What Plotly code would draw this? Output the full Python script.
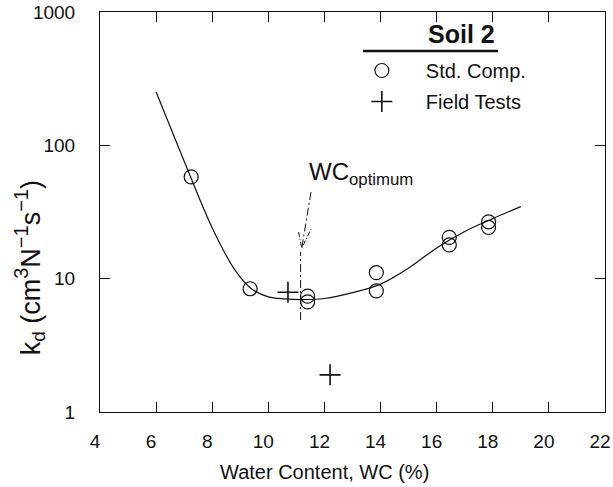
import plotly.graph_objects as go

# Standard compaction tests, Soil 2
std_wc = [7.25, 9.35, 11.4, 11.4, 13.85, 13.85, 16.45, 16.45, 17.85, 17.85]
std_kd = [58, 8.4, 7.4, 6.7, 11.1, 8.1, 20.4, 17.9, 26.7, 24.2]

# Field tests
field_wc = [10.7, 12.2]
field_kd = [7.9, 1.9]

# Fitted trend through the laboratory data
fit_wc = [6.0, 7.0, 8.0, 8.8, 9.4, 10.0, 10.6, 11.2, 12.0, 13.0, 14.0, 15.0, 16.0, 17.0, 18.0, 19.0]
fit_kd = [251, 76, 24, 11.7, 8.4, 7.3, 7.05, 6.97, 7.1, 7.85, 9.1, 12.0, 17.0, 22.6, 28.2, 34.7]

# Optimum water content marker
wc_opt = 11.15
opt_kd_range = [4.9, 15.9]

x_ticks = [4, 6, 8, 10, 12, 14, 16, 18, 20, 22]
y_ticks = [1, 10, 100, 1000]
y_tick_text = ["1", "10", "100", "1000"]

FONT = "Liberation Sans, Arial, Helvetica, sans-serif"
INK = "#111111"
DASHDOT = "8px,3px,2px,3px"

fig = go.Figure()

fig.add_trace(go.Scatter(
    x=fit_wc, y=fit_kd, mode="lines",
    line=dict(color=INK, width=1.2, shape="spline", smoothing=1.0),
    showlegend=False, hoverinfo="skip"))

fig.add_trace(go.Scatter(
    x=std_wc, y=std_kd, mode="markers", name="Std. Comp.",
    marker=dict(symbol="circle-open", size=14, color=INK, line=dict(width=1.2)),
    legendgroup="a"))

fig.add_trace(go.Scatter(
    x=field_wc, y=field_kd, mode="markers", name="Field Tests",
    marker=dict(symbol="cross-thin-open", size=15, color=INK, line=dict(width=1.6, color=INK)),
    legendgroup="b"))

# dash-dot vertical line at the optimum
fig.add_trace(go.Scatter(
    x=[wc_opt, wc_opt], y=opt_kd_range, mode="lines",
    line=dict(color=INK, width=1, dash=DASHDOT),
    showlegend=False, hoverinfo="skip"))

# dash-dot arrow pointing at the optimum line
fig.add_trace(go.Scatter(
    x=[11.52, 11.19], y=[44.7, 16.9], mode="lines",
    line=dict(color=INK, width=1, dash=DASHDOT),
    showlegend=False, hoverinfo="skip"))
fig.add_trace(go.Scatter(
    x=[11.08, 11.19, 11.52], y=[22.4, 16.9, 23.5], mode="lines",
    line=dict(color=INK, width=1, dash="5px,2px,1px,2px"),
    showlegend=False, hoverinfo="skip"))

fig.add_annotation(
    x=11.38, y=1.79, xref="x", yref="y", xanchor="left", yanchor="middle",
    text="WC<sub>optimum</sub>", showarrow=False,
    font=dict(family=FONT, size=24, color=INK))

# legend heading
fig.add_annotation(
    x=0.716, y=0.945, xref="paper", yref="paper", xanchor="center", yanchor="middle",
    text="<b>Soil 2</b>", showarrow=False,
    font=dict(family=FONT, size=25, color=INK))
fig.add_shape(type="line", xref="paper", yref="paper",
              x0=0.521, x1=0.788, y0=0.9025, y1=0.9025,
              line=dict(color=INK, width=2.5))

# axis titles
fig.add_annotation(
    x=0.4455, y=-0.15, xref="paper", yref="paper", xanchor="center", yanchor="middle",
    text="Water Content, WC (%)", showarrow=False,
    font=dict(family=FONT, size=20, color=INK))
fig.add_annotation(
    x=-0.14, y=0.36, xref="paper", yref="paper", xanchor="center", yanchor="middle",
    text=("k<sub>d</sub> (cm<sup><span style='font-size:20px'>3</span></sup>N"
          "<sup><span style='font-size:20px'>\u22121</span></sup>s"
          "<sup><span style='font-size:20px'>\u22121</span></sup>)"),
    textangle=-90, showarrow=False, font=dict(family=FONT, size=27, color=INK))

axis_common = dict(
    showline=True, linecolor=INK, linewidth=1, mirror="ticks",
    ticks="inside", ticklen=10, tickwidth=1, tickcolor=INK,
    showgrid=False, zeroline=False, ticklabeloverflow="allow", automargin=False,
    tickfont=dict(family=FONT, size=19, color=INK),
)

fig.update_xaxes(range=[4, 22], tickvals=x_ticks, ticklabelstandoff=12,
                 ticklabelshift=-5, **axis_common)
fig.update_yaxes(type="log", range=[0, 3], tickvals=y_ticks, ticktext=y_tick_text,
                 ticklabelstandoff=20, **axis_common)

fig.update_layout(
    width=613, height=487, autosize=False,
    margin=dict(l=100, r=8, t=12, b=75),
    paper_bgcolor="white", plot_bgcolor="white",
    font=dict(family=FONT, color=INK),
    legend=dict(
        x=0.471, y=0.9025, xanchor="left", yanchor="top",
        bgcolor="rgba(0,0,0,0)", borderwidth=0,
        font=dict(family=FONT, size=20, color=INK),
        itemwidth=78, tracegroupgap=2,
    ),
)

fig.write_html("out.html")
